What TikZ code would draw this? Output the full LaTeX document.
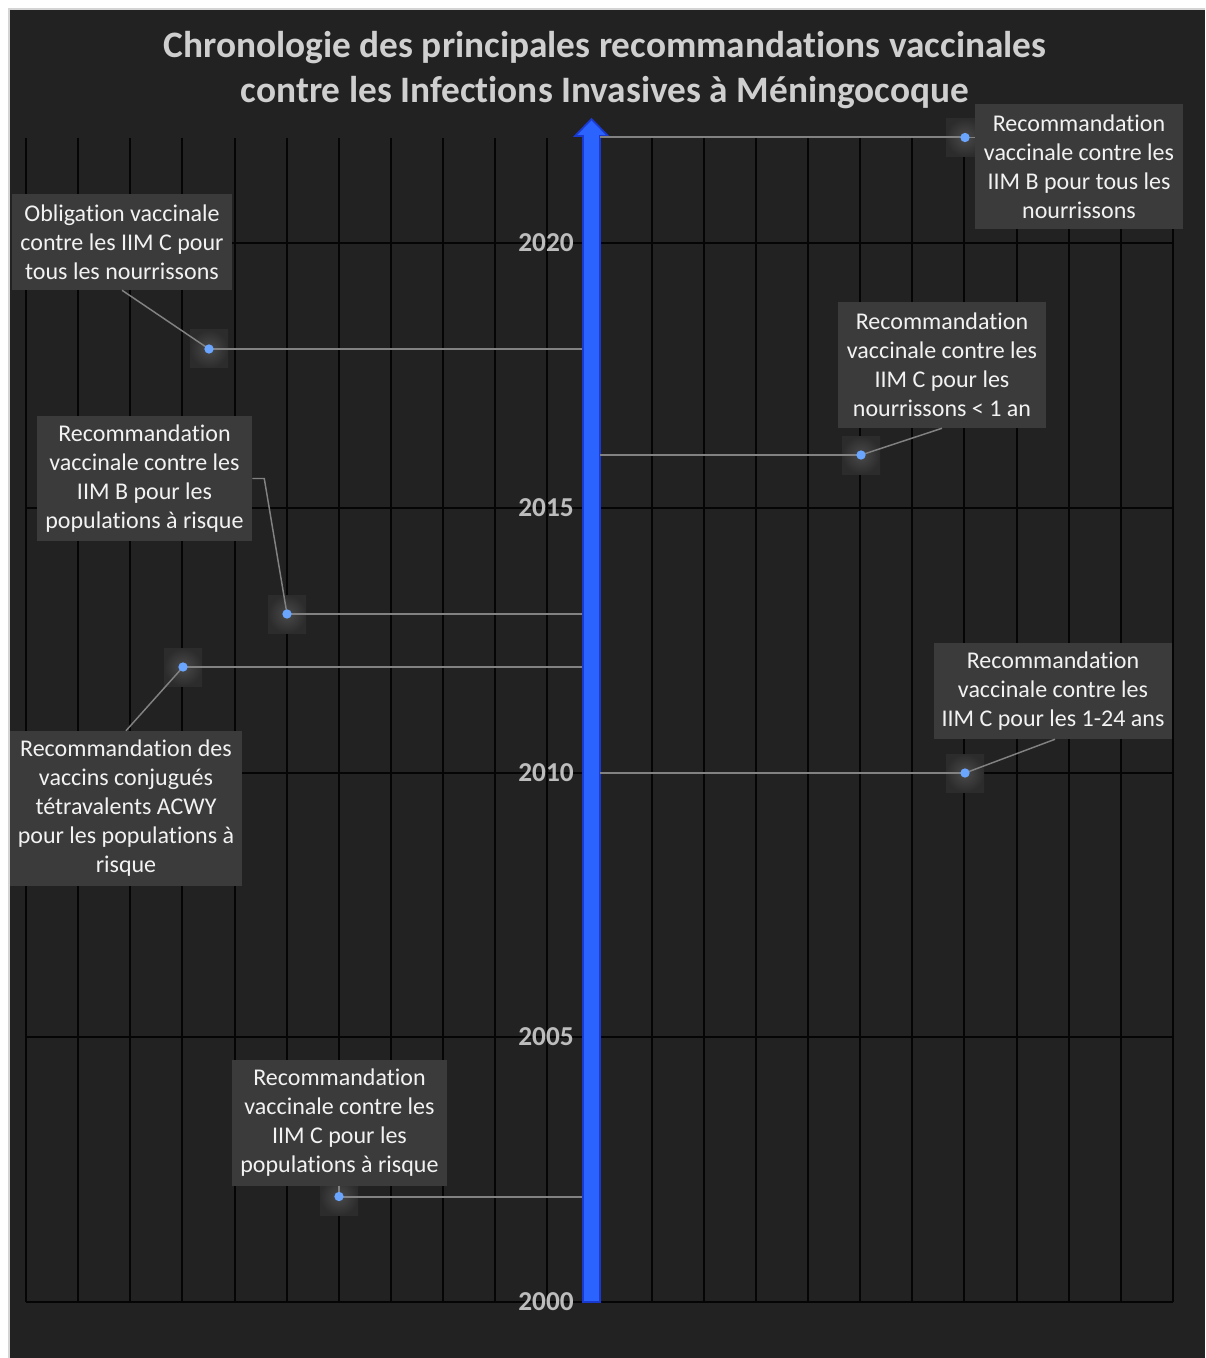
\documentclass[tikz,border=0pt]{standalone}
\usepackage{fontspec}
\setmainfont{Carlito}[Ligatures={NoCommon}]
\usetikzlibrary{calc}
\definecolor{bgdark}{HTML}{222222}
\definecolor{edgegray}{HTML}{D4D4D4}
\definecolor{gridc}{HTML}{050505}
\definecolor{titlec}{HTML}{CFCFCF}
\definecolor{yearc}{HTML}{BDBDBD}
\definecolor{boxc}{HTML}{3B3B3B}
\definecolor{boxtext}{HTML}{F2F2F2}
\definecolor{connc}{HTML}{828282}
\definecolor{dotc}{HTML}{6AA6FF}
\definecolor{axisfill}{HTML}{2B63FF}
\definecolor{axisedge}{HTML}{1A3ACF}
\definecolor{haloin}{HTML}{4A4A4A}
\definecolor{haloout}{HTML}{2C2C2C}
\tikzset{
  gridline/.style={draw=gridc, line width=1.5pt},
  yearlbl/.style={text=yearc, font=\fontsize{20.5}{24}\selectfont\bfseries, inner sep=0pt, anchor=east},
  titlelbl/.style={text=titlec, font=\fontsize{28}{33.75}\selectfont\bfseries, align=center, inner sep=0pt},
  eventbox/.style={fill=boxc, text=boxtext, font=\fontsize{18}{21.75}\selectfont, align=center, inner sep=0pt},
  hconn/.style={draw=connc, line width=1.5pt},
  leader/.style={draw=connc, line width=1.1pt},
  markerdot/.style={circle, fill=dotc, inner sep=0pt, minimum size=7pt},
  axisarrow/.style={fill=axisfill, draw=axisedge, line width=1.3pt, line join=miter}
}
\newcommand{\halo}[1]{\shade[inner color=haloin, outer color=haloout] ($(#1)+(-19,-19)$) rectangle ($(#1)+(19,19)$);}
\begin{document}
\begin{tikzpicture}[x=0.75pt,y=-0.75pt]
\useasboundingbox (0,0) rectangle (1205,1358);
\fill[white] (0,0) rectangle (1205,1358);
\fill[bgdark] (9,9) rectangle (1205,1358);
\draw[edgegray, line width=1.2pt] (9,1358) -- (9,9) -- (1205,9);

% grid
\foreach \i in {0,...,22} \draw[gridline] ({26+52.136*\i},138) -- ({26+52.136*\i},1302);
\foreach \yy in {243,507.5,772.5,1037,1302} \draw[gridline] (26,\yy) -- (1173,\yy);

% year labels
\node[yearlbl] (y2020) at (574,243) {2020};
\node[yearlbl] (y2015) at (574,507.5) {2015};
\node[yearlbl] (y2010) at (574,772.5) {2010};
\node[yearlbl] (y2005) at (574,1037) {2005};
\node[yearlbl] (y2000) at (574,1302) {2000};

% title
\node[titlelbl] (title) at (605,70) {Chronologie des principales recommandations vaccinales\\contre les Infections Invasives à Méningocoque};

% event points
\coordinate (p1) at (209,349);
\coordinate (p2) at (965,137.5);
\coordinate (p3) at (861,455);
\coordinate (p4) at (287,614);
\coordinate (p5) at (183,667);
\coordinate (p6) at (965,773);
\coordinate (p7) at (339,1196.5);
\coordinate (axL) at (582,0);
\coordinate (axR) at (600,0);

% halos
\halo{p1}\halo{p2}\halo{p3}\halo{p4}\halo{p5}\halo{p6}\halo{p7}

% axis arrow
\draw[axisarrow] (583,1302) -- (583,136) -- (575,136) -- (591.5,119) -- (608,136) -- (600,136) -- (600,1302) -- cycle;

% boxes
\node[eventbox, minimum width={220*0.75pt}, minimum height={96*0.75pt}] (b1) at (122,242) {Obligation vaccinale\\contre les IIM C pour\\tous les nourrissons};
\node[eventbox, minimum width={208*0.75pt}, minimum height={125*0.75pt}] (b2) at (1079,166.5) {Recommandation\\vaccinale contre les\\IIM B pour tous les\\nourrissons};
\node[eventbox, minimum width={208*0.75pt}, minimum height={126*0.75pt}] (b3) at (942,365) {Recommandation\\vaccinale contre les\\IIM C pour les\\nourrissons < 1 an};
\node[eventbox, minimum width={215*0.75pt}, minimum height={125*0.75pt}] (b4) at (144.5,478.5) {Recommandation\\vaccinale contre les\\IIM B pour les\\populations à risque};
\node[eventbox, minimum width={232*0.75pt}, minimum height={155*0.75pt}] (b5) at (126,808.5) {Recommandation des\\vaccins conjugués\\tétravalents ACWY\\pour les populations à\\risque};
\node[eventbox, minimum width={238*0.75pt}, minimum height={96*0.75pt}] (b6) at (1053,691) {Recommandation\\vaccinale contre les\\IIM C pour les 1-24 ans};
\node[eventbox, minimum width={215*0.75pt}, minimum height={126*0.75pt}] (b7) at (339.5,1123) {Recommandation\\vaccinale contre les\\IIM C pour les\\populations à risque};

% horizontal connectors to axis
\draw[hconn] (p1) -- (p1 -| axL);
\draw[hconn] (p2 -| axR) -- (p2);
\draw[hconn] (p3 -| axR) -- (p3);
\draw[hconn] (p4) -- (p4 -| axL);
\draw[hconn] (p5) -- (p5 -| axL);
\draw[hconn] (p6 -| axR) -- (p6);
\draw[hconn] (p7) -- (p7 -| axL);

% leader lines
\draw[leader] (p1) -- (b1.south);
\draw[leader] (p2) -- (b2.west |- p2);
\draw[leader] (p3) -- (b3.south);
\draw[leader] (b4.east) -- ++(12,0) -- (p4);
\draw[leader] (p5) -- (b5.north);
\draw[leader] (p6) -- ([xshift=1.5pt]b6.south);
\draw[leader] (p7) -- (p7 |- b7.south);

% markers
\foreach \k in {1,...,7} \node[markerdot] (m\k) at (p\k) {};
\end{tikzpicture}
\end{document}
